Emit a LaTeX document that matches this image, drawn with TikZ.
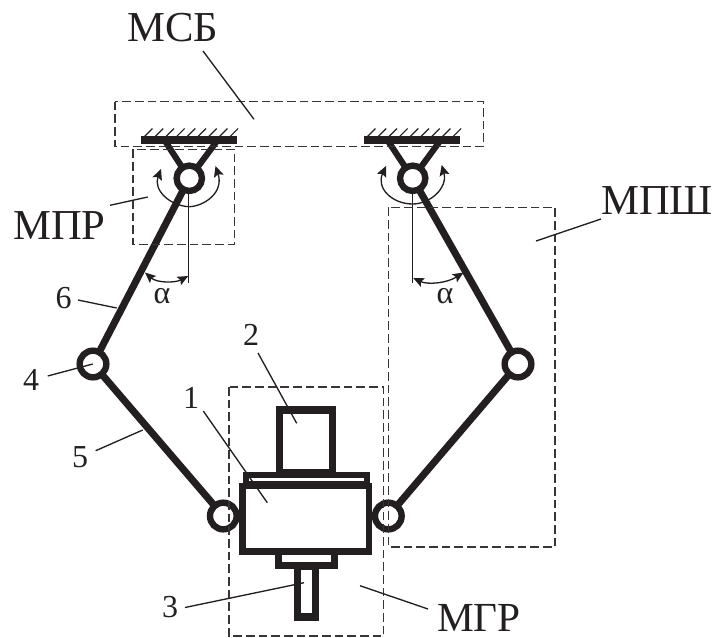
\documentclass[tikz,border=0pt]{standalone}
\usepackage{fontspec}
\setmainfont{Liberation Serif}
\usetikzlibrary{arrows.meta}
\definecolor{ink}{HTML}{231F20}
\tikzset{
  x=0.75pt,y=-0.75pt,
  every path/.style={color=ink},
  dashbox/.style={draw=ink!90,line width=1.05pt,dash pattern=on 6.5pt off 3pt},
  thinl/.style={draw=ink,line width=1pt},
  barl/.style={draw=ink,line width=5.4pt},
  strut/.style={draw=ink,line width=4.6pt},
  linkl/.style={draw=ink,line width=5.3pt},
  boxl/.style={draw=ink,line width=4.9pt},
  boxh/.style={draw=ink,line width=5.4pt},
  hatchl/.style={draw=ink,line width=0.9pt},
  ringt/.style={circle,draw=ink,fill=white,line width=4.8pt,minimum size=19pt,inner sep=0pt},
  ringb/.style={circle,draw=ink,fill=white,line width=4.8pt,minimum size=20pt,inner sep=0pt},
  bigl/.style={font=\fontsize{32}{32}\selectfont,text=ink,inner sep=0pt,anchor=base},
  numl/.style={font=\fontsize{24}{24}\selectfont,text=ink,inner sep=0pt,anchor=base},
  swing/.style={draw=ink,line width=1pt,-{Stealth[length=8pt,width=7.5pt,inset=1.5pt]}},
  angl/.style={draw=ink,line width=1pt,{Stealth[length=8pt,width=7pt,inset=1.5pt]}-{Stealth[length=8pt,width=7pt,inset=1.5pt]}},
}
\begin{document}
\begin{tikzpicture}
\useasboundingbox (0,0) rectangle (714,637);
% joint positions
\coordinate (cL) at (189.3,178.3);
\coordinate (cR) at (412.7,178.3);
\coordinate (kL) at (93,364);
\coordinate (kR) at (518,364);
\coordinate (eL) at (223.3,516);
\coordinate (eR) at (388.3,516);
% hatches
\foreach \x in {144,154.7,165.4,176.1,186.8,197.5,208.2,218.9,229.6}{
  \draw[hatchl] (\x,137) -- ++(8.5,-8.5);
}
\foreach \x in {367,377.7,388.4,399.1,409.8,420.5,431.2,441.9,452.6}{
  \draw[hatchl] (\x,137) -- ++(8.5,-8.5);
}
% ground bars
\draw[barl] (141,140) -- (236.5,140);
\draw[barl] (364.3,140) -- (460,140);
% struts
\draw[strut] (165,141) -- (cL);
\draw[strut] (217,141) -- (cL);
\draw[strut] (388,141) -- (cR);
\draw[strut] (440,141) -- (cR);
% links
\draw[linkl] (cL) -- (kL);
\draw[linkl] (cR) -- (kR);
\draw[linkl] (kL) -- (eL);
\draw[linkl] (kR) -- (eR);
% rings
\node[ringt] (jL) at (cL) {};
\node[ringt] (jR) at (cR) {};
\node[ringb] (jKL) at (kL) {};
\node[ringb] (jKR) at (kR) {};
\node[ringb] (jEL) at (eL) {};
\node[ringb] (jER) at (eR) {};
% gripper body
\draw[boxh,fill=white] (279.3,410) rectangle (332.7,473);
\draw[draw=ink,line width=4.2pt,fill=white] (245.8,475) rectangle (366.8,484);
\draw[boxl,fill=white] (278.7,552) rectangle (334.3,565.5);
\draw[boxh,fill=white] (297.6,566) rectangle (315.3,617);
\draw[boxl,fill=white] (242.5,486.2) rectangle (369.2,551.7);
% reference lines
\draw[thinl] (188.5,193) -- (188.5,283);
\draw[thinl] (412.7,193) -- (412.7,283);
% swing arrows
\draw[swing] (189.3,206.7) .. controls (170,206) and (153,190) .. (161,169);
\draw[swing] (189.3,206.7) .. controls (205,206) and (224,192) .. (215.5,166);
\draw[swing] (412.7,204) .. controls (392,204) and (376,188) .. (386,166);
\draw[swing] (412.7,204) .. controls (430,204) and (448,188) .. (441.7,165);
% angle arcs
\draw[angl] (145,272.5) .. controls (157,283) and (175,283) .. (188.2,276);
\draw[angl] (413.2,278) .. controls (428,285) and (447,283) .. (463.5,272.5);
% dashed modules
\draw[dashbox] (115,101.7) rectangle (483.3,146.7);
\draw[dashbox] (133,149.3) rectangle (234.3,244.5);
\draw[dashbox] (388.7,207.3) rectangle (555,547);
\draw[dashbox] (229,387) rectangle (383.7,636);
% labels
\node[bigl] (lMSB) at (173,41.7) {МСБ};
\node[bigl] (lMPR) at (59.5,239) {МПР};
\node[bigl] (lMPS) at (657,214) {МПШ};
\node[bigl,font=\fontsize{31}{31}\selectfont] (lMGR) at (479,631.7) {МГР};
\node[numl] (n1) at (191,408) {1};
\node[numl] (n2) at (251,345) {2};
\node[numl] (n3) at (170,617) {3};
\node[numl] (n4) at (31,390) {4};
\node[numl] (n5) at (80,467) {5};
\node[numl] (n6) at (63.5,308) {6};
\node[numl] (a1) at (162,303) {α};
\node[numl] (a2) at (445,303) {α};
% leaders
\coordinate (tMSB) at (254,119.3);
\coordinate (tMPR) at (147.7,197);
\coordinate (tMPS) at (536,241);
\coordinate (tMGR) at (360,585.7);
\coordinate (t1) at (267.3,502.7);
\coordinate (t2) at (296.7,423.3);
\coordinate (t3) at (304,582.7);
\coordinate (t4) at (92.7,364);
\coordinate (t5) at (142.7,430);
\coordinate (t6) at (116.7,308);
\draw[thinl] (203,51) -- (tMSB);
\draw[thinl] (110,205.3) -- (tMPR);
\draw[thinl] (601,219) -- (tMPS);
\draw[thinl] (428,609) -- (tMGR);
\draw[thinl] (203.3,411) -- (t1);
\draw[thinl] (258,353) -- (t2);
\draw[thinl] (185,607.5) -- (t3);
\draw[thinl] (47.7,376) -- (t4);
\draw[thinl] (95.7,450.7) -- (t5);
\draw[thinl] (78,300) -- (t6);
\end{tikzpicture}
\end{document}
